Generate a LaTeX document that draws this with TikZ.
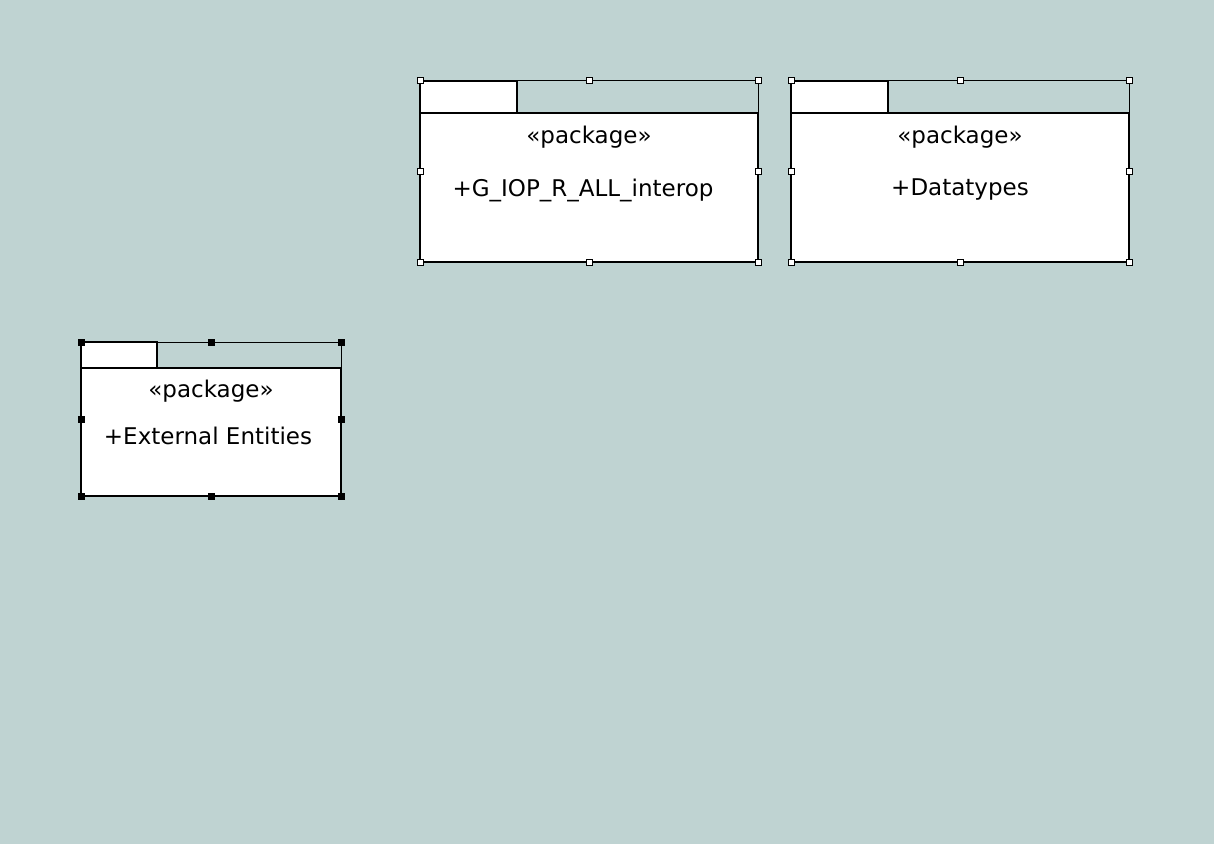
\documentclass[tikz,border=0pt]{standalone}
\usepackage{fontspec}
\setmainfont{DejaVu Sans}
\definecolor{canvas}{RGB}{191,211,210}
\begin{document}
\begin{tikzpicture}[x=1pt,y=-1pt,
  body/.style={draw=black,line width=1.8pt,fill=white},
  tab/.style={draw=black,line width=1.3pt,fill=white},
  frame/.style={draw=black,line width=0.8pt},
  label/.style={inner sep=0pt,font=\fontsize{23}{27}\selectfont,text=black},
  hwhite/.style={draw=black,line width=0.8pt,fill=white,minimum size=6pt,inner sep=0pt},
  hblack/.style={draw=black,fill=black,minimum size=6pt,inner sep=0pt}]
% page
\fill[canvas] (0,0) rectangle (1214,844);
\useasboundingbox (0,0) rectangle (1231,861);

% package G_IOP_R_ALL_interop
\draw[frame] (420,80) -- (758,80) -- (758,113);
\draw[body] (420,113) rectangle (758,262);
\draw[tab] (420,81) rectangle (517,113);
\node[label] (p1s) at (589,137) {«package»};
\node[label] (p1n) at (583,190) {+G\_IOP\_R\_ALL\_interop};
\foreach \px/\py [count=\i] in {420/80,589/80,758/80,420/171,758/171,420/262,589/262,758/262}
  \node[hwhite] (p1h\i) at (\px,\py) {};

% package Datatypes
\draw[frame] (791,80) -- (1129,80) -- (1129,113);
\draw[body] (791,113) rectangle (1129,262);
\draw[tab] (791,81) rectangle (888,113);
\node[label] (p2s) at (960,137) {«package»};
\node[label] (p2n) at (960,190) {+Datatypes};
\foreach \px/\py [count=\i] in {791/80,960/80,1129/80,791/171,1129/171,791/262,960/262,1129/262}
  \node[hwhite] (p2h\i) at (\px,\py) {};

% package External Entities
\draw[frame] (81,342) -- (341,342) -- (341,368);
\draw[body] (81,368) rectangle (341,496);
\draw[tab] (81,342) rectangle (157,368);
\node[label] (p3s) at (211,391) {«package»};
\node[label] (p3n) at (208,436) {+External Entities};
\foreach \px/\py [count=\i] in {81/342,211/342,341/342,81/419,341/419,81/496,211/496,341/496}
  \node[hblack] (p3h\i) at (\px,\py) {};
\end{tikzpicture}
\end{document}
